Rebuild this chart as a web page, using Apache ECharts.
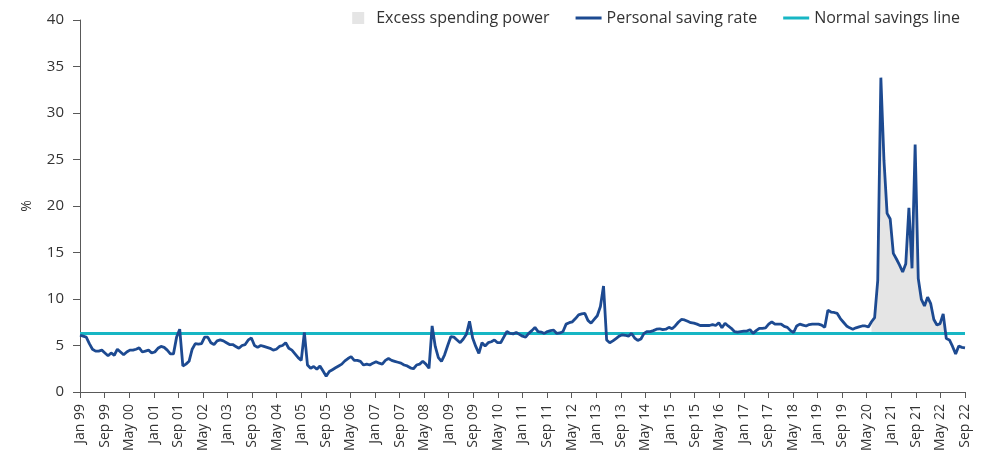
<!DOCTYPE html>
<html>
<head>
<meta charset="utf-8">
<script src="https://cdn.jsdelivr.net/npm/echarts@6/dist/echarts.min.js"></script>
<style>
  html, body { margin: 0; padding: 0; background: #fff; }
  #chart { width: 991px; height: 459px; }
</style>
</head>
<body>
<div id="chart"></div>
<script>
// x axis labels, evenly spaced along the axis
const tickLabels = ['Jan 99', 'Sep 99', 'May 00', 'Jan 01', 'Sep 01', 'May 02', 'Jan 03', 'Sep 03', 'May 04',
    'Jan 05', 'Sep 05', 'May 06', 'Jan 07', 'Sep 07', 'May 08', 'Jan 09', 'Sep 09', 'May 10', 'Jan 11',
    'Sep 11', 'May 12', 'Jan 13', 'Sep 13', 'May 14', 'Jan 15', 'Sep 15', 'May 16', 'Jan 17', 'Sep 17',
    'May 18', 'Jan 19', 'Sep 19', 'May 20', 'Jan 21', 'Sep 21', 'May 22', 'Sep 22'];

// personal saving rate, one value per month (%)
const savingRate = [
    6.1, 6.0, 5.9, 5.2, 4.6, 4.4, 4.4, 4.5, 4.2, 3.9, 4.2, 3.95,
    4.6, 4.3, 4.0, 4.3, 4.5, 4.5, 4.6, 4.75, 4.3, 4.4, 4.5, 4.2,
    4.3, 4.7, 4.9, 4.8, 4.5, 4.1, 4.1, 5.9, 6.75, 2.8, 3.0, 3.3,
    4.6, 5.2, 5.15, 5.2, 5.9, 5.9, 5.3, 5.1, 5.5, 5.6, 5.5, 5.3,
    5.1, 5.1, 4.9, 4.7, 5.0, 5.1, 5.6, 5.8, 5.0, 4.8, 5.0, 4.9,
    4.8, 4.7, 4.5, 4.6, 4.9, 5.0, 5.3, 4.7, 4.5, 4.1, 3.7, 3.4,
    6.4, 2.9, 2.55, 2.75, 2.45, 2.8, 2.25, 1.7, 2.2, 2.4, 2.6, 2.8,
    3.0, 3.35, 3.6, 3.8, 3.4, 3.4, 3.3, 2.9, 3.0, 2.9, 3.1, 3.25,
    3.1, 3.0, 3.4, 3.6, 3.4, 3.3, 3.2, 3.1, 2.9, 2.8, 2.6, 2.5,
    2.9, 3.0, 3.3, 3.0, 2.55, 7.1, 4.9, 3.7, 3.3, 4.0, 5.0, 5.95,
    5.9, 5.6, 5.3, 5.7, 6.2, 7.6, 5.8, 4.9, 4.15, 5.3, 4.95, 5.3,
    5.4, 5.6, 5.3, 5.3, 5.9, 6.5, 6.3, 6.25, 6.4, 6.2, 6.0, 5.9,
    6.3, 6.6, 6.95, 6.5, 6.45, 6.3, 6.5, 6.6, 6.65, 6.3, 6.35, 6.5,
    7.3, 7.45, 7.55, 7.9, 8.3, 8.4, 8.45, 7.7, 7.4, 7.8, 8.2, 9.2,
    11.4, 5.6, 5.3, 5.5, 5.75, 6.0, 6.15, 6.1, 6.0, 6.3, 5.8, 5.55,
    5.7, 6.3, 6.5, 6.5, 6.6, 6.75, 6.8, 6.7, 6.75, 6.95, 6.8, 7.1,
    7.5, 7.8, 7.75, 7.6, 7.45, 7.4, 7.3, 7.15, 7.15, 7.15, 7.15, 7.25,
    7.15, 7.45, 6.9, 7.4, 7.1, 6.85, 6.5, 6.45, 6.5, 6.55, 6.55, 6.7,
    6.3, 6.6, 6.85, 6.85, 6.9, 7.3, 7.55, 7.3, 7.3, 7.3, 7.05, 6.95,
    6.6, 6.4, 7.1, 7.3, 7.2, 7.1, 7.25, 7.3, 7.3, 7.3, 7.2, 6.95,
    8.8, 8.6, 8.55, 8.45, 7.9, 7.5, 7.1, 6.9, 6.75, 6.9, 7.0, 7.1,
    7.1, 7.0, 7.55, 8.0, 12.0, 33.8, 24.9, 19.2, 18.6, 14.9, 14.3, 13.65,
    12.9, 13.8, 19.8, 13.3, 26.6, 12.2, 9.95, 9.25, 10.2, 9.5, 7.8, 7.2,
    7.35, 8.4, 5.75, 5.6, 4.9, 4.1, 4.95, 4.8, 4.75
];

// normal savings level (%) and the months where excess spending power is shaded
const normalRate = 6.3;
const excessMonths = [254, 278];

const lastIdx = savingRate.length - 1;
const tickPos = tickLabels.map((_, k) => k * lastIdx / (tickLabels.length - 1));

const rateData = savingRate.map((v, i) => [i, v]);
const normalData = [[0, normalRate], [lastIdx, normalRate]];
// shaded area: saving rate above the normal line, filled down to it
const excessData = [];
for (let i = excessMonths[0]; i <= excessMonths[1]; i++) {
    excessData.push([i, Math.max(savingRate[i], normalRate)]);
}

const font = '"Open Sans", "Noto Sans", sans-serif';
const axisColor = '#595959';
const lineIcon = 'path://M0,0 L26,0 L26,3 L0,3 Z';

let myChart = echarts.init(document.getElementById('chart'));
let option = {
    animation: false,
    textStyle: {fontFamily: font},
    legend: {
        top: 5,
        right: 26,
        itemWidth: 26,
        itemHeight: 12,
        itemGap: 26,
        textStyle: {fontFamily: font, fontSize: 16, color: '#333'},
        data: [
            {name: 'Excess spending power', icon: 'path://M0,0 L10,0 L10,10 L0,10 Z'},
            {name: 'Personal saving rate', icon: lineIcon},
            {name: 'Normal savings line', icon: lineIcon}
        ]
    },
    grid: {left: 80, right: 26, top: 20, bottom: 67},
    xAxis: {
        type: 'value',
        min: 0,
        max: lastIdx,
        splitLine: {show: false},
        axisLine: {lineStyle: {color: axisColor, width: 1}},
        axisTick: {show: true, length: 6, customValues: tickPos, lineStyle: {color: axisColor}},
        axisLabel: {
            customValues: tickPos,
            rotate: 90,
            margin: 12,
            fontSize: 14,
            color: '#333',
            fontFamily: font,
            formatter: (val) => tickLabels[Math.round(val * (tickLabels.length - 1) / lastIdx)]
        }
    },
    yAxis: {
        type: 'value',
        min: 0,
        max: 40,
        interval: 5,
        name: '%',
        nameLocation: 'middle',
        nameRotate: 90,
        nameGap: 46,
        nameTextStyle: {fontSize: 14, color: '#333', fontFamily: font},
        splitLine: {show: false},
        axisLine: {show: true, lineStyle: {color: axisColor, width: 1}},
        axisTick: {show: true, length: 7, lineStyle: {color: axisColor}},
        axisLabel: {fontSize: 15, color: '#333', margin: 16, fontFamily: font}
    },
    series: [
        {
            name: 'Excess spending power',
            type: 'line',
            data: excessData,
            symbol: 'none',
            silent: true,
            itemStyle: {color: '#e5e5e5'},
            lineStyle: {width: 0, opacity: 0},
            areaStyle: {color: '#e5e5e5', opacity: 1, origin: normalRate},
            z: 1
        },
        {
            name: 'Normal savings line',
            type: 'line',
            data: normalData,
            symbol: 'none',
            itemStyle: {color: '#17b6c4'},
            lineStyle: {color: '#17b6c4', width: 3},
            z: 2
        },
        {
            name: 'Personal saving rate',
            type: 'line',
            data: rateData,
            symbol: 'none',
            itemStyle: {color: '#1d4a91'},
            lineStyle: {color: '#1d4a91', width: 2.8},
            z: 3
        }
    ]
};
myChart.setOption(option);
</script>
</body>
</html>
